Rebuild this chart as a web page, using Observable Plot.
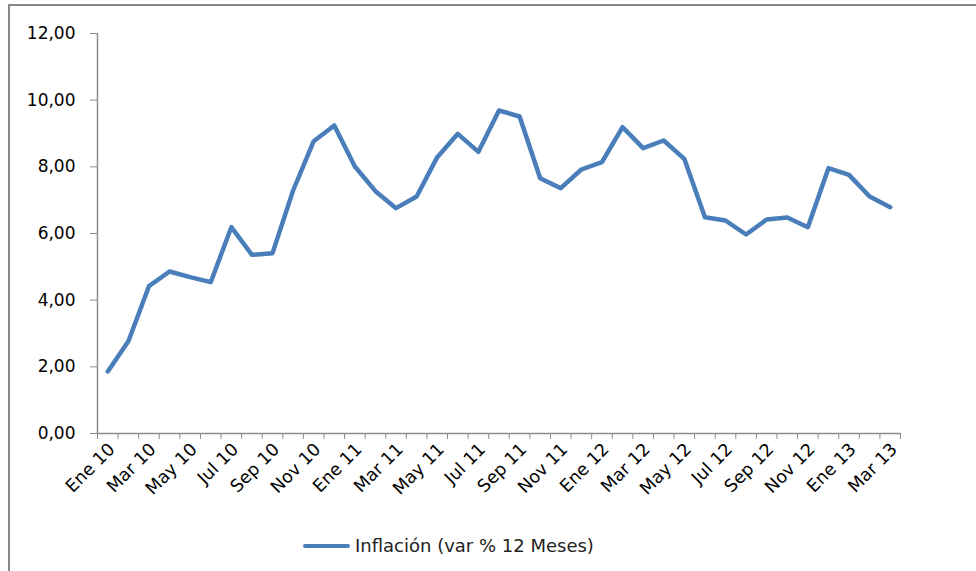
<!DOCTYPE html>
<html>
<head>
<meta charset="utf-8">
<script src="https://cdn.jsdelivr.net/npm/d3@7"></script>
<script src="https://cdn.jsdelivr.net/npm/@observablehq/plot@0.6"></script>
<style>
  html, body { margin: 0; padding: 0; background: #fff; width: 976px; height: 571px; overflow: hidden; }
  #frame { position: absolute; left: 8px; top: 4px; width: 1000px; height: 600px;
           border-left: 2px solid #878787; border-top: 2px solid #878787; box-sizing: border-box; }
  #chart { position: absolute; left: 0; top: 0; }
  #legend { position: absolute; left: 303px; top: 535px; font-family: "DejaVu Sans", sans-serif;
            font-size: 18px; color: #222; display: flex; align-items: center; white-space: nowrap; }
  #legend .sw { display: inline-block; width: 47px; height: 4px; background: #4a7ebb; margin-right: 5px; border-radius: 2px; }
</style>
</head>
<body>
<div id="frame"></div>
<div id="chart"></div>
<div id="legend"><span class="sw"></span>Inflación (var % 12 Meses)</div>
<script>
const meses = ["Ene 10","Feb 10","Mar 10","Abr 10","May 10","Jun 10","Jul 10","Ago 10","Sep 10","Oct 10","Nov 10","Dic 10",
               "Ene 11","Feb 11","Mar 11","Abr 11","May 11","Jun 11","Jul 11","Ago 11","Sep 11","Oct 11","Nov 11","Dic 11",
               "Ene 12","Feb 12","Mar 12","Abr 12","May 12","Jun 12","Jul 12","Ago 12","Sep 12","Oct 12","Nov 12","Dic 12",
               "Ene 13","Feb 13","Mar 13"];
const inflacion = [1.86,2.77,4.42,4.86,4.69,4.54,6.19,5.36,5.41,7.29,8.77,9.24,
                   8.01,7.27,6.76,7.11,8.29,8.99,8.45,9.69,9.51,7.66,7.36,7.92,
                   8.14,9.19,8.56,8.79,8.24,6.49,6.39,5.97,6.42,6.48,6.19,7.96,
                   7.76,7.11,6.79];
const yTicks = [0, 2, 4, 6, 8, 10, 12];
const serieNombre = "Inflación (var % 12 Meses)";

const data = meses.map((m, i) => ({i, m, v: inflacion[i]}));
const labelIdx = meses.map((m, i) => i).filter(i => i % 2 === 0);
const bounds = d3.range(meses.length + 1).map(k => k - 0.5);
const fmt = d => d.toFixed(2).replace(".", ",");

const axisGray = "#8c8c8c";
const chart = Plot.plot({
  width: 976,
  height: 520,
  marginLeft: 97,
  marginRight: 76,
  marginTop: 33,
  marginBottom: 87,
  x: {type: "linear", domain: [-0.5, meses.length - 0.5]},
  y: {domain: [0, 12]},
  style: {fontFamily: "DejaVu Sans, sans-serif", fontSize: "17px", color: "#000", background: "transparent", overflow: "visible"},
  marks: [
    Plot.axisY(yTicks, {tickSize: 7, tickPadding: 15, tickFormat: fmt, stroke: axisGray, fill: "#000", label: null}),
    Plot.axisX(bounds, {tickSize: 6, tickFormat: () => "", stroke: axisGray, label: null}),
    Plot.axisX(labelIdx, {tickSize: 0, tickRotate: -45, tickPadding: 13, dx: 4, tickFormat: i => meses[i], fill: "#000", label: null, fontSize: 17.5}),
    Plot.ruleX([-0.5], {stroke: axisGray, strokeWidth: 1.5}),
    Plot.ruleY([0], {stroke: axisGray, strokeWidth: 1.5}),
    Plot.line(data, {x: "i", y: "v", stroke: "#4a7ebb", strokeWidth: 4.5, strokeLinejoin: "round", strokeLinecap: "round"})
  ]
});
document.getElementById("chart").appendChild(chart);
document.getElementById("legend").lastChild.textContent = serieNombre;
</script>
</body>
</html>
